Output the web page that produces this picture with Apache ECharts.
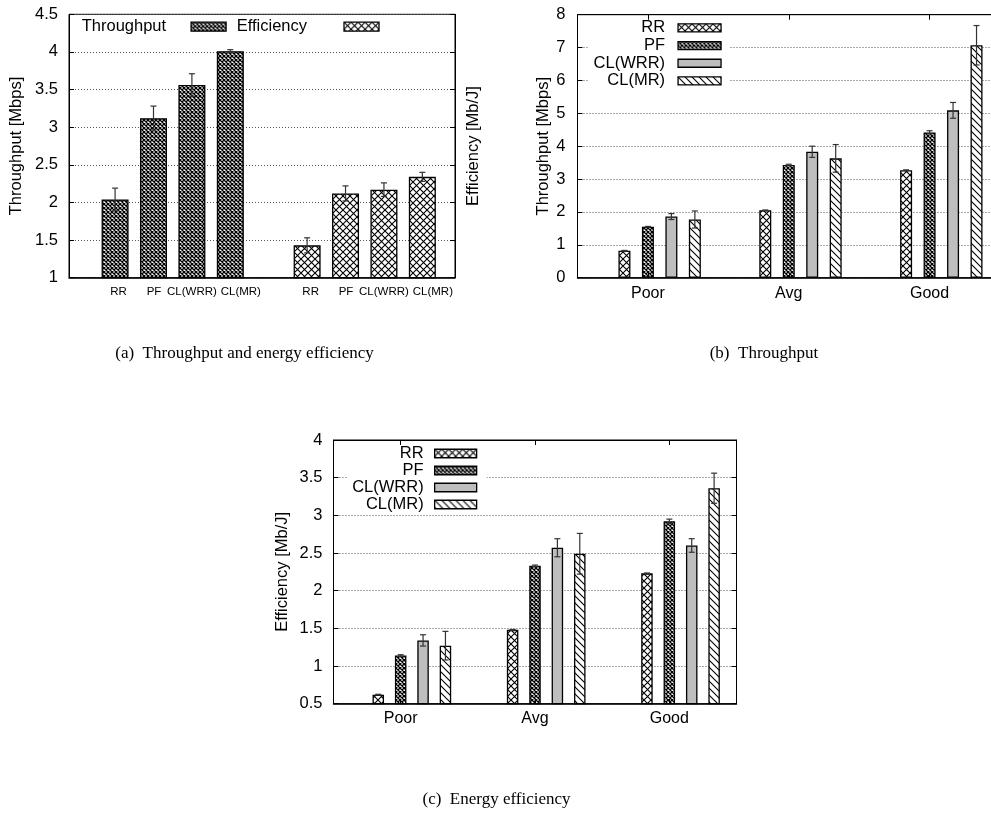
<!DOCTYPE html>
<html>
<head>
<meta charset="utf-8">
<script src="https://cdn.jsdelivr.net/npm/echarts@6/dist/echarts.min.js"></script>
<style>
  html, body { margin: 0; padding: 0; background: #fff; }
  #chart { width: 991px; height: 819px; }
</style>
</head>
<body>
<div id="chart"></div>
<script>
  var schemes = ['RR', 'PF', 'CL(WRR)', 'CL(MR)']
  var channels = ['Poor', 'Avg', 'Good']

  // (a) overall throughput [Mbps] and efficiency, one value per scheme
  var totalTput = [2.04, 3.12, 3.56, 4.01]
  var totalTputErr = [0.15, 0.16, 0.15, 0.02]
  var totalEff = [1.43, 2.12, 2.17, 2.34]
  var totalEffErr = [0.10, 0.10, 0.09, 0.06]

  // (b) throughput [Mbps] per channel quality (Poor, Avg, Good)
  var tputRR = [0.82, 2.05, 3.27]
  var tputPF = [1.55, 3.43, 4.42]
  var tputWRR = [1.86, 3.83, 5.09]
  var tputMR = [1.77, 3.63, 7.07]
  var tputErrRR = [0.01, 0.01, 0.01]
  var tputErrPF = [0.01, 0.02, 0.05]
  var tputErrWRR = [0.09, 0.17, 0.24]
  var tputErrMR = [0.26, 0.42, 0.60]

  // (c) energy efficiency [Mb/J] per channel quality
  var effRR = [0.62, 1.48, 2.23]
  var effPF = [1.14, 2.33, 2.92]
  var effWRR = [1.34, 2.57, 2.60]
  var effMR = [1.27, 2.49, 3.36]
  var effErrRR = [0.005, 0.005, 0.005]
  var effErrPF = [0.01, 0.01, 0.03]
  var effErrWRR = [0.075, 0.12, 0.09]
  var effErrMR = [0.19, 0.27, 0.20]

  var FONT = 'Liberation Sans'

  // gnuplot-like fill patterns
  function makePattern (size, draw) {
    var c = document.createElement('canvas')
    c.width = size
    c.height = size
    var ctx = c.getContext('2d')
    ctx.fillStyle = '#fff'
    ctx.fillRect(0, 0, size, size)
    ctx.strokeStyle = '#000'
    draw(ctx, size)
    return { image: c, repeat: 'repeat' }
  }
  function cross (w) {
    return function (ctx, s) {
      ctx.lineWidth = w
      ctx.beginPath()
      ctx.moveTo(-1, -1); ctx.lineTo(s + 1, s + 1)
      ctx.moveTo(-1, s + 1); ctx.lineTo(s + 1, -1)
      ctx.stroke()
    }
  }
  var crossFill = makePattern(7, cross(1.1))
  var denseFill = makePattern(4, cross(1.3))
  var grayFill = '#bebebe'
  var diagFill = makePattern(7, function (ctx, s) {
    ctx.lineWidth = 1.1
    ctx.beginPath()
    ctx.moveTo(-1, -1); ctx.lineTo(s + 1, s + 1)
    ctx.moveTo(-1, s - 1); ctx.lineTo(1, s + 1)
    ctx.moveTo(s - 1, -1); ctx.lineTo(s + 1, 1)
    ctx.stroke()
  })
  var fills = [crossFill, denseFill, grayFill, diagFill]

  function errorBar (params, api) {
    var x = api.value(0)
    var lo = api.coord([x, api.value(1)])
    var hi = api.coord([x, api.value(2)])
    var cap = 3
    var st = { stroke: '#333', lineWidth: 1.2 }
    return {
      type: 'group',
      children: [
        { type: 'line', shape: { x1: lo[0], y1: lo[1], x2: hi[0], y2: hi[1] }, style: st },
        { type: 'line', shape: { x1: lo[0] - cap, y1: lo[1], x2: lo[0] + cap, y2: lo[1] }, style: st },
        { type: 'line', shape: { x1: hi[0] - cap, y1: hi[1], x2: hi[0] + cap, y2: hi[1] }, style: st }
      ]
    }
  }

  function errData (xs, vals, errs) {
    return vals.map(function (v, i) { return [xs[i], v - errs[i], v + errs[i]] })
  }

  var barStyle = function (fill) {
    return { color: fill, borderColor: '#000', borderWidth: 1.3 }
  }

  function yAxisOf (grid, pos, min, max, step, name, gap, margin) {
    return {
      gridIndex: grid,
      type: 'value',
      position: pos,
      min: min,
      max: max,
      interval: step,
      name: name || '',
      nameLocation: 'middle',
      nameRotate: 90,
      nameGap: gap || 0,
      nameTextStyle: { fontFamily: FONT, fontSize: 16.5, color: '#000' },
      axisLine: { show: true, onZero: false, lineStyle: { color: '#000', width: 1 } },
      axisTick: { show: true, inside: true, length: 5, lineStyle: { color: '#000' } },
      axisLabel: {
        show: pos === 'left',
        margin: margin,
        fontFamily: FONT,
        fontSize: 16.5,
        color: '#000'
      },
      splitLine: pos === 'left'
        ? { show: true, lineStyle: { color: '#555', width: 1, type: [1, 2] } }
        : { show: false }
    }
  }

  function groupXAxis (grid, pos, margin) {
    return {
      gridIndex: grid,
      type: 'value',
      position: pos,
      min: -0.5,
      max: 2.5,
      z: 5,
      axisLine: { show: true, onZero: false, lineStyle: { color: '#000', width: pos === 'bottom' ? 1.5 : 1 } },
      axisTick: { show: true, inside: true, length: 5, customValues: [0, 1, 2], lineStyle: { color: '#000' } },
      axisLabel: {
        show: pos === 'bottom',
        customValues: [0, 1, 2],
        margin: margin,
        fontFamily: FONT,
        fontSize: 16,
        color: '#000',
        formatter: function (v) { return channels[Math.round(v)] }
      },
      splitLine: { show: false }
    }
  }

  // bar x position: group index plus a sixth per scheme, label sits on the PF bar
  function slotX (k) {
    return channels.map(function (c, g) { return g + (k - 1) / 6 })
  }

  var tputVals = [tputRR, tputPF, tputWRR, tputMR]
  var tputErrs = [tputErrRR, tputErrPF, tputErrWRR, tputErrMR]
  var effVals = [effRR, effPF, effWRR, effMR]
  var effErrs = [effErrRR, effErrPF, effErrWRR, effErrMR]

  var series = []

  // (a)
  var xTput = schemes.map(function (s, i) { return i })
  var xEff = schemes.map(function (s, i) { return 5 + i })
  series.push({
    name: 'Throughput', type: 'bar', xAxisIndex: 0, yAxisIndex: 0,
    barWidth: 27, barGap: '-100%',
    itemStyle: barStyle(denseFill),
    data: totalTput.map(function (v, i) { return [xTput[i], v] })
  })
  series.push({
    name: 'Efficiency', type: 'bar', xAxisIndex: 0, yAxisIndex: 0,
    barWidth: 27, barGap: '-100%',
    itemStyle: barStyle(crossFill),
    data: totalEff.map(function (v, i) { return [xEff[i], v] })
  })
  series.push({
    type: 'custom', xAxisIndex: 0, yAxisIndex: 0, z: 6,
    renderItem: errorBar, encode: { x: 0, y: [1, 2] },
    data: errData(xTput, totalTput, totalTputErr).concat(errData(xEff, totalEff, totalEffErr))
  })

  // (b) and (c)
  schemes.forEach(function (s, k) {
    var xs = slotX(k)
    series.push({
      name: s, type: 'bar', xAxisIndex: 1, yAxisIndex: 2,
      barWidth: 12, barGap: '-100%',
      itemStyle: barStyle(fills[k]),
      data: tputVals[k].map(function (v, i) { return [xs[i], v] })
    })
    series.push({
      name: s, type: 'bar', xAxisIndex: 3, yAxisIndex: 4,
      barWidth: 11.5, barGap: '-100%',
      itemStyle: barStyle(fills[k]),
      data: effVals[k].map(function (v, i) { return [xs[i], v] })
    })
  })
  var tputErrData = []
  var effErrData = []
  schemes.forEach(function (s, k) {
    tputErrData = tputErrData.concat(errData(slotX(k), tputVals[k], tputErrs[k]))
    effErrData = effErrData.concat(errData(slotX(k), effVals[k], effErrs[k]))
  })
  series.push({
    type: 'custom', xAxisIndex: 1, yAxisIndex: 2, z: 6,
    renderItem: errorBar, encode: { x: 0, y: [1, 2] }, data: tputErrData
  })
  series.push({
    type: 'custom', xAxisIndex: 3, yAxisIndex: 4, z: 6,
    renderItem: errorBar, encode: { x: 0, y: [1, 2] }, data: effErrData
  })

  var legendText = function (size, lh, pad) {
    return { fontFamily: FONT, fontSize: size, lineHeight: lh, color: '#000', padding: [0, pad, 0, 0] }
  }
  var legendItem = { borderColor: '#000', borderWidth: 1.3 }

  var option = {
    backgroundColor: '#fff',
    animation: false,
    grid: [
      { left: 69, top: 14.3, width: 386, height: 263.4, show: true, borderColor: '#000', borderWidth: 1, outerBoundsMode: 'none' },
      { left: 577.5, top: 14.7, width: 422.5, height: 263, show: true, borderColor: '#000', borderWidth: 1, outerBoundsMode: 'none' },
      { left: 333.5, top: 440, width: 403, height: 263.7, show: true, borderColor: '#000', borderWidth: 1, outerBoundsMode: 'none' }
    ],
    xAxis: [
      {
        gridIndex: 0,
        type: 'value',
        min: -1.2,
        max: 8.85,
        z: 5,
        axisLine: { show: true, onZero: false, lineStyle: { color: '#000', width: 1.5 } },
        axisTick: { show: false },
        splitLine: { show: false },
        axisLabel: {
          customValues: xTput.concat(xEff),
          margin: 8,
          fontFamily: FONT,
          fontSize: 11.5,
          color: '#000',
          formatter: function (v) {
            var k = Math.round(v) % 5
            return '{s' + k + '|' + schemes[k] + '}'
          },
          rich: {
            s0: { fontFamily: FONT, fontSize: 11.5, padding: [0, 0, 0, 7] },
            s1: { fontFamily: FONT, fontSize: 11.5, padding: [0, 0, 0, 1] },
            s2: { fontFamily: FONT, fontSize: 11.5 },
            s3: { fontFamily: FONT, fontSize: 11.5, padding: [0, 0, 0, 21] }
          }
        }
      },
      groupXAxis(1, 'bottom', 8),
      groupXAxis(1, 'top', 8),
      groupXAxis(2, 'bottom', 7),
      groupXAxis(2, 'top', 7)
    ],
    yAxis: [
      yAxisOf(0, 'left', 1, 4.5, 0.5, 'Throughput [Mbps]', 44, 11),
      yAxisOf(0, 'right', 1, 4.5, 0.5, 'Efficiency [Mb/J]', 10, 0),
      yAxisOf(1, 'left', 0, 8, 1, 'Throughput [Mbps]', 24.5, 12),
      yAxisOf(1, 'right', 0, 8, 1, '', 0, 0),
      yAxisOf(2, 'left', 0.5, 4, 0.5, 'Efficiency [Mb/J]', 43, 11),
      yAxisOf(2, 'right', 0.5, 4, 0.5, '', 0, 0)
    ],
    legend: [
      {
        data: ['Throughput'], left: 81.7, top: 18.2, padding: 0,
        align: 'right', icon: 'rect', itemWidth: 35, itemHeight: 9,
        selectedMode: false, itemStyle: legendItem,
        textStyle: legendText(16.5, 17, 20)
      },
      {
        data: ['Efficiency'], left: 236.7, top: 18.2, padding: 0,
        align: 'right', icon: 'rect', itemWidth: 35, itemHeight: 9,
        selectedMode: false, itemStyle: legendItem,
        textStyle: legendText(16.5, 17, 32)
      },
      {
        data: schemes, orient: 'vertical', align: 'right', right: 261, top: 16.5,
        padding: [2.5, 8.3, 2, 5], backgroundColor: '#fff',
        icon: 'rect', itemWidth: 43, itemHeight: 8, itemGap: 0,
        selectedMode: false, itemStyle: legendItem,
        textStyle: legendText(16.5, 17.7, 8)
      },
      {
        data: schemes, orient: 'vertical', align: 'right', right: 504.3, top: 441.5,
        padding: [3.5, 9.4, 2, 5], backgroundColor: '#fff',
        icon: 'rect', itemWidth: 42, itemHeight: 8.5, itemGap: 0,
        selectedMode: false, itemStyle: legendItem,
        textStyle: legendText(16.5, 16.9, 6)
      }
    ],
    graphic: [
      { type: 'text', x: 244.5, y: 354, style: { text: '(a)  Throughput and energy efficiency', font: '17px "Liberation Serif"', fill: '#000', textAlign: 'center', textVerticalAlign: 'middle' } },
      { type: 'text', x: 764, y: 354, style: { text: '(b)  Throughput', font: '17px "Liberation Serif"', fill: '#000', textAlign: 'center', textVerticalAlign: 'middle' } },
      { type: 'text', x: 496.5, y: 800, style: { text: '(c)  Energy efficiency', font: '17px "Liberation Serif"', fill: '#000', textAlign: 'center', textVerticalAlign: 'middle' } }
    ],
    series: series
  }

  var myChart = echarts.init(document.getElementById('chart'))
  myChart.setOption(option)
</script>
</body>
</html>
